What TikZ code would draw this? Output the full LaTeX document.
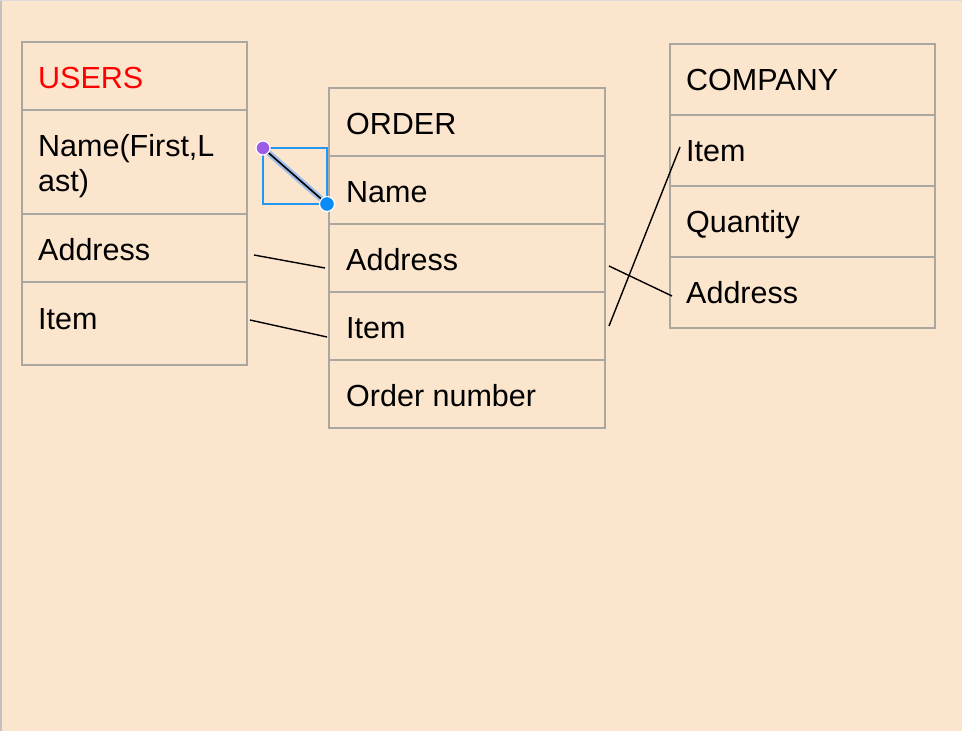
\documentclass[tikz,border=0pt]{standalone}
\usepackage{fontspec}
\setmainfont{Liberation Sans}
\definecolor{bg}{RGB}{252,229,205}
\definecolor{boxgray}{RGB}{170,166,160}
\definecolor{selblue}{RGB}{33,150,243}
\definecolor{hlblue}{RGB}{160,190,235}
\definecolor{dotpurple}{RGB}{156,92,230}
\definecolor{dotblue}{RGB}{10,140,247}
\begin{document}
\begin{tikzpicture}[x=1pt,y=-1pt,
  cell/.style={draw=boxgray, line width=2pt, rectangle, inner sep=0pt, outer sep=0pt, anchor=north west},
  txt/.style={anchor=base west, inner sep=0pt, font=\fontsize{30.5}{35}\selectfont},
  conn/.style={draw=black, line width=1.4pt}]
\useasboundingbox (0,0) rectangle (962,731);
\fill[bg] (0,0) rectangle (962,731);
\draw[boxgray!70, line width=1.5pt] (0.75,0) -- (0.75,731);
\draw[boxgray!40, line width=1pt] (0,0.5) -- (962,0.5);
% USERS
\node[cell, minimum width=225pt, minimum height=68pt] (u1) at (22,42) {};
\node[cell, minimum width=225pt, minimum height=104pt] (u2) at (22,110) {};
\node[cell, minimum width=225pt, minimum height=68pt] (u3) at (22,214) {};
\node[cell, minimum width=225pt, minimum height=83pt] (u4) at (22,282) {};
\node[txt, text=red] (tu1) at (38,88) {USERS};
\node[txt] (tu2a) at (38,156.5) {Name(First,L};
\node[txt] (tu2b) at (38,191.5) {ast)};
\node[txt] (tu3) at (38,260.5) {Address};
\node[txt] (tu4) at (38,329.5) {Item};
% ORDER
\node[cell, minimum width=276pt, minimum height=68pt] (o1) at (329,88) {};
\node[cell, minimum width=276pt, minimum height=68pt] (o2) at (329,156) {};
\node[cell, minimum width=276pt, minimum height=68pt] (o3) at (329,224) {};
\node[cell, minimum width=276pt, minimum height=68pt] (o4) at (329,292) {};
\node[cell, minimum width=276pt, minimum height=68pt] (o5) at (329,360) {};
\node[txt] (to1) at (346,134.5) {ORDER};
\node[txt] (to2) at (346,202.5) {Name};
\node[txt] (to3) at (346,270.5) {Address};
\node[txt] (to4) at (346,338.5) {Item};
\node[txt] (to5) at (346,406.5) {Order number};
% COMPANY
\node[cell, minimum width=265pt, minimum height=71pt] (c1) at (670,44) {};
\node[cell, minimum width=265pt, minimum height=71pt] (c2) at (670,115) {};
\node[cell, minimum width=265pt, minimum height=71pt] (c3) at (670,186) {};
\node[cell, minimum width=265pt, minimum height=71pt] (c4) at (670,257) {};
\node[txt] (tc1) at (686,90) {COMPANY};
\node[txt] (tc2) at (686,161) {Item};
\node[txt] (tc3) at (686,232) {Quantity};
\node[txt] (tc4) at (686,303) {Address};
% connector end points
\coordinate (ua) at (254,255);
\coordinate (oa) at (325,268);
\coordinate (ui) at (250,320);
\coordinate (oi) at (327,337);
\coordinate (oar) at (609,266);
\coordinate (ca) at (672,296);
\coordinate (oir) at (609,326);
\coordinate (ci) at (680,147);
\coordinate (s1) at (263,148);
\coordinate (s2) at (327,204);
\draw[conn] (ua) -- (oa);
\draw[conn] (ui) -- (oi);
\draw[conn] (oar) -- (ca);
\draw[conn] (oir) -- (ci);
% selected connector
\draw[selblue, line width=1.3pt] (s1) rectangle (s2);
\draw[hlblue, line width=6pt] (s1) -- (s2);
\draw[black, line width=1.6pt] (s1) -- (s2);
\draw[fill=dotpurple, draw=white, line width=1.2pt] (s1) circle (7);
\draw[fill=dotblue, draw=white, line width=1.2pt] (s2) circle (7.5);
\end{tikzpicture}
\end{document}
